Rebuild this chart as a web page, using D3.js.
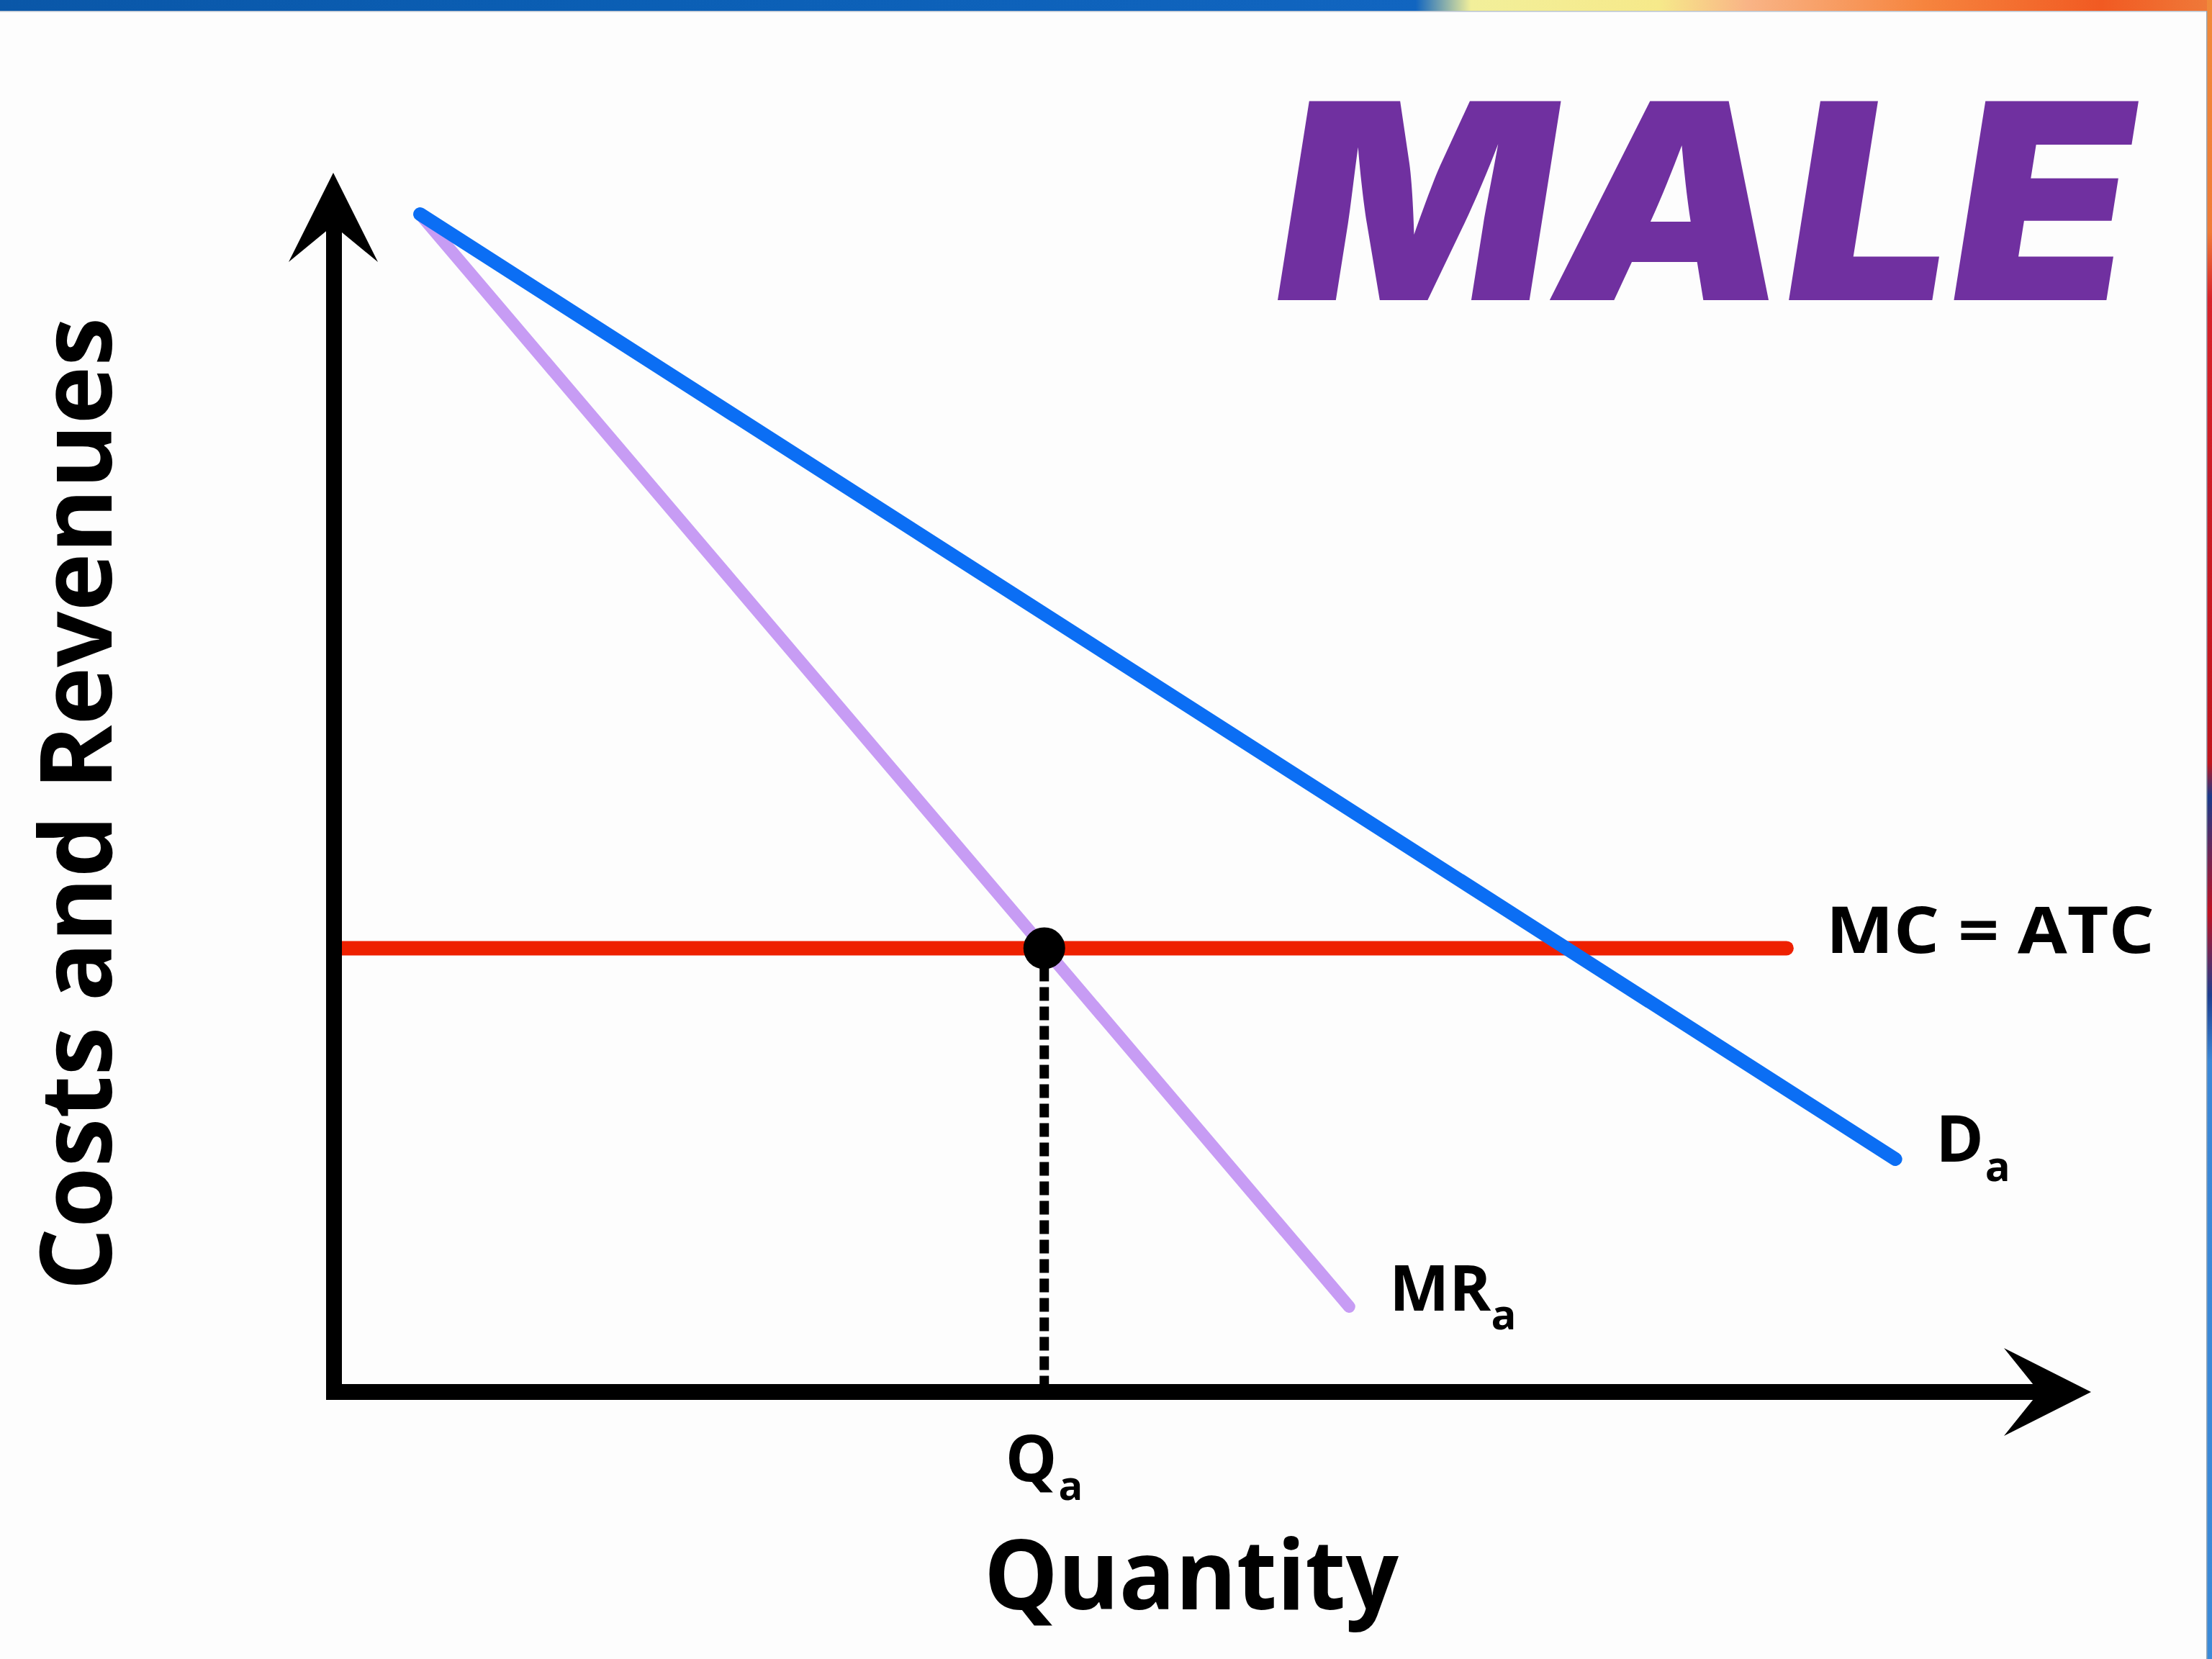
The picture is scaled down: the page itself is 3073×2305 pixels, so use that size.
<!DOCTYPE html>
<html>
<head>
<meta charset="utf-8">
<script src="https://cdn.jsdelivr.net/npm/d3@7"></script>
<style>
  html, body { margin: 0; padding: 0; background: #fdfdfd; }
  svg { display: block; }
</style>
</head>
<body>
<div id="chart"></div>
<script>
// ---- data (economics diagram, arbitrary units 0..100) ----
const title = "MALE";
const xAxisLabel = "Quantity";
const yAxisLabel = "Costs and Revenues";
const demandQ = [4.9, 88.9];
const demandP = [96.6, 19.1];
const mrQ = [4.9, 57.8];
const mrP = [96.6, 7.0];
const mcQ = [0, 82.7];
const mcP = [36.4, 36.4];
const qaValue = 40.44;
const curveLabels = ["D", "MR", "MC = ATC", "Q"];
const subscripts = ["a", "a", "", "a"];

const W = 3073, H = 2305;
const svg = d3.select("#chart").append("svg")
  .attr("width", W).attr("height", H)
  .style("background", "#fdfdfd");

// decorative frame (slide background bits)
const defs = svg.append("defs");
const gTop = defs.append("linearGradient").attr("id", "topg").attr("x1", 0).attr("x2", 1);
[[0, "#0a57a8"], [0.3, "#0b5fb5"], [0.64, "#1165c0"], [0.665, "#f2ef9a"], [0.75, "#f6e98a"], [0.79, "#f9b486"], [0.87, "#f6843e"], [0.95, "#f15a22"], [1, "#ef7a3a"]]
  .forEach(([o, c]) => gTop.append("stop").attr("offset", o).attr("stop-color", c));
svg.append("rect").attr("x", 0).attr("y", 0).attr("width", W).attr("height", 15).attr("fill", "url(#topg)");
svg.append("rect").attr("x", 0).attr("y", 15).attr("width", 3066).attr("height", 1.5).attr("fill", "#b9c3cf");
const gR = defs.append("linearGradient").attr("id", "rg").attr("x1", 0).attr("x2", 0).attr("y1", 0).attr("y2", 1);
[[0, "#f08a3a"], [0.14, "#f07b36"], [0.18, "#d8222a"], [0.46, "#c0141c"], [0.48, "#1a3a8a"], [0.55, "#c01020"], [0.6, "#1c3e90"], [0.64, "#3a88d8"], [1, "#3a8ad8"]]
  .forEach(([o, c]) => gR.append("stop").attr("offset", o).attr("stop-color", c));
svg.append("rect").attr("x", 3066).attr("y", 0).attr("width", 7).attr("height", H).attr("fill", "url(#rg)");
svg.append("rect").attr("x", 3065).attr("y", 15).attr("width", 1.5).attr("height", H).attr("fill", "#9aa7b5");

// ---- scales ----
const x = d3.scaleLinear().domain([0, 100]).range([464, 2904]);
const y = d3.scaleLinear().domain([0, 100]).range([1934, 240]);

const line = d3.line().x(d => x(d[0])).y(d => y(d[1]));
const zip = (a, b) => a.map((v, i) => [v, b[i]]);

const labelFont = "'Open Sans', 'Noto Sans', sans-serif";

// MC = ATC (red)
svg.append("path").attr("d", line(zip(mcQ, mcP)))
  .attr("fill", "none").attr("stroke", "#ee2000").attr("stroke-width", 20).attr("stroke-linecap", "round");

// MR (lavender)
svg.append("path").attr("d", line(zip(mrQ, mrP)))
  .attr("fill", "none").attr("stroke", "#c79cf4").attr("stroke-width", 17).attr("stroke-linecap", "round");

// Demand (blue)
svg.append("path").attr("d", line(zip(demandQ, demandP)))
  .attr("fill", "none").attr("stroke", "#0b6ef4").attr("stroke-width", 19).attr("stroke-linecap", "round");

// dashed drop line
svg.append("line")
  .attr("x1", x(qaValue)).attr("x2", x(qaValue))
  .attr("y1", y(mcP[0])).attr("y2", y(0) - 8)
  .attr("stroke", "#000").attr("stroke-width", 13).attr("stroke-dasharray", "19 8");

// axes via d3 axes (thick domain lines), ending under the arrowheads
const AX_W = 22;
const xAxis = svg.append("g").attr("transform", `translate(0,${y(0)})`)
  .call(d3.axisBottom(x).tickValues([]).tickSizeOuter(0));
const yAxis = svg.append("g").attr("transform", `translate(${x(0)},0)`)
  .call(d3.axisLeft(y).tickValues([]).tickSizeOuter(0));
const xt = x.range()[1] + 1, yb = y(0);
const yt = y.range()[1], xl = x(0) - 1;
xAxis.select(".domain")
  .attr("d", `M${x(0) - AX_W / 2},0H${xt - 70}`)
  .attr("stroke", "#000").attr("stroke-width", AX_W).attr("stroke-linecap", "butt");
yAxis.select(".domain")
  .attr("d", `M0,${AX_W / 2}V${yt + 71 - y(0)}`)
  .attr("transform", `translate(0,${y(0)})`)
  .attr("stroke", "#000").attr("stroke-width", AX_W).attr("stroke-linecap", "butt");

// arrowheads
svg.append("path")
  .attr("d", `M${xt},${yb} L${xt - 121},${yb - 61} L${xt - 72},${yb} L${xt - 121},${yb + 61} Z`)
  .attr("fill", "#000");
svg.append("path")
  .attr("d", `M${xl},${yt} L${xl - 62},${yt + 124} L${xl},${yt + 73} L${xl + 62},${yt + 124} Z`)
  .attr("fill", "#000");

// equilibrium dot
svg.append("circle").attr("cx", x(qaValue)).attr("cy", y(mcP[0])).attr("r", 29).attr("fill", "#000");

// labels
function subLabel(main, sub, px, py, size, subSize, subDx, subDy) {
  const t = svg.append("text").attr("x", px).attr("y", py)
    .attr("font-family", labelFont).attr("font-weight", 700)
    .attr("font-size", size).attr("fill", "#000");
  t.append("tspan").text(main);
  if (sub) t.append("tspan").attr("dx", subDx).attr("dy", subDy).attr("font-size", subSize).text(sub);
  return t;
}
// D_a
subLabel(curveLabels[0], subscripts[0], x(demandQ[1]) + 56, y(demandP[1]) + 4, 90, 58, 2, 27);
// MR_a
subLabel(curveLabels[1], subscripts[1], x(mrQ[1]) + 56, y(mrP[1]) + 6, 88, 58, 0, 26);
// MC = ATC
svg.append("text").attr("x", x(mcQ[1]) + 55).attr("y", y(mcP[1]) + 7)
  .attr("font-family", labelFont).attr("font-weight", 700).attr("font-size", 90)
  .attr("textLength", 456).attr("lengthAdjust", "spacingAndGlyphs")
  .attr("fill", "#000").text(curveLabels[2]);
// Q_a
subLabel(curveLabels[3], subscripts[3], x(qaValue) - 54, y(0) + 124, 90, 56, 2, 26);

// axis titles
svg.append("text").attr("x", 1367).attr("y", 2236)
  .attr("font-family", labelFont).attr("font-weight", 700).attr("font-size", 134)
  .attr("textLength", 576).attr("lengthAdjust", "spacingAndGlyphs")
  .attr("fill", "#000").text(xAxisLabel);
svg.append("text")
  .attr("transform", `translate(155,${(441 + 1793) / 2}) rotate(-90)`)
  .attr("text-anchor", "middle")
  .attr("font-family", labelFont).attr("font-weight", 700).attr("font-size", 138)
  .attr("textLength", 1352).attr("lengthAdjust", "spacingAndGlyphs")
  .attr("fill", "#000").text(yAxisLabel);

// big title
svg.append("text")
  .attr("transform", "translate(1756,417) skewX(-9)")
  .attr("x", 0).attr("y", 0)
  .attr("font-family", "Inter, Roboto, sans-serif").attr("font-weight", 900)
  .attr("font-size", 380)
  .attr("textLength", 1188).attr("lengthAdjust", "spacingAndGlyphs")
  .attr("fill", "#7030a0").text(title);
</script>
</body>
</html>
